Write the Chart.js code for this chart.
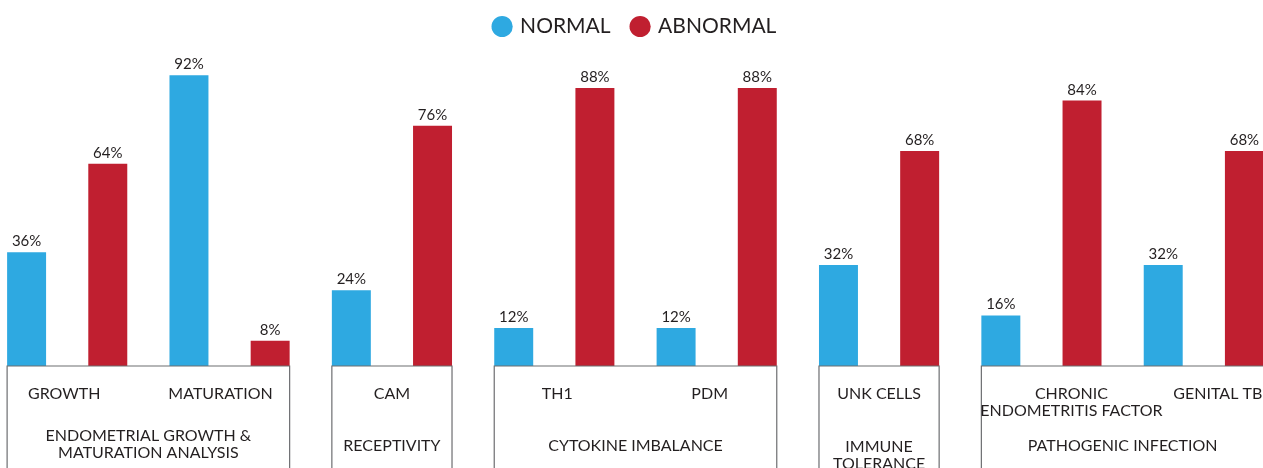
<!DOCTYPE html>
<html>
<head>
<meta charset="utf-8">
<script src="https://cdn.jsdelivr.net/npm/chart.js@4"></script>
<style>
  html, body { margin: 0; padding: 0; background: #fff; overflow: hidden; }
  #wrap { position: absolute; left: -14px; top: 0; width: 1299px; height: 468px; }
</style>
</head>
<body>
<div id="wrap"><canvas id="myChart" width="1299" height="468"></canvas></div>
<script>
const ctx = document.getElementById('myChart');

// data
const categories = [
  ['GROWTH'], ['MATURATION'], ['CAM'], ['TH1'], ['PDM'], ['UNK CELLS'],
  ['CHRONIC', 'ENDOMETRITIS FACTOR'], ['GENITAL TB']
];
const normal   = [36, 92, 24, 12, 12, 32, 16, 32];
const abnormal = [64, 8, 76, 88, 88, 68, 84, 68];
const groupNames = [
  ['ENDOMETRIAL GROWTH &', 'MATURATION ANALYSIS'],
  ['RECEPTIVITY'],
  ['CYTOKINE IMBALANCE'],
  ['IMMUNE', 'TOLERANCE'],
  ['PATHOGENIC INFECTION']
];
const groupRanges = [[0, 1], [2, 2], [3, 4], [5, 5], [6, 7]];

// label nudges (px) and first-line y for the group captions
const catDx = [-3, -9, 0, 3, -7, 0, 30, 14];
const groupY = [436, 446, 446, 447, 446];

const blue = 'rgb(46,169,225)';
const red = 'rgb(192,31,48)';
const textColor = '#231f20';
const fontFam = 'Lato, "Open Sans", sans-serif';

// legend gets wide item spacing; tweak its height so the plot top lands right
const legendSpace = {
  id: 'legendSpace',
  beforeInit(chart) {
    const fit = chart.legend.fit;
    chart.legend.fit = function () {
      fit.bind(chart.legend)();
      this.height += 3;
    };
  }
};

const decorations = {
  id: 'decorations',
  afterDatasetsDraw(chart) {
    const c = chart.ctx;
    const x = chart.scales.x;
    const base = chart.scales.y.getPixelForValue(0);

    // value labels
    c.save();
    c.fillStyle = textColor;
    c.font = '15px ' + fontFam;
    c.textAlign = 'center';
    c.textBaseline = 'alphabetic';
    chart.data.datasets.forEach((ds, di) => {
      chart.getDatasetMeta(di).data.forEach((bar, i) => {
        c.fillText(ds.data[i] + '%', bar.x, bar.y - 6);
      });
    });

    // boxes
    const bars0 = chart.getDatasetMeta(0).data;
    const bars1 = chart.getDatasetMeta(1).data;
    c.strokeStyle = '#6d6e71';
    c.lineWidth = 1.2;
    const boxes = groupRanges.map(r => {
      const left = bars0[r[0]].x - bars0[r[0]].width / 2;
      const right = bars1[r[1]].x + bars1[r[1]].width / 2;
      return [left, right];
    });
    boxes.forEach(([l, r]) => {
      c.beginPath();
      c.moveTo(l, chart.height + 2);
      c.lineTo(l, base);
      c.lineTo(r, base);
      c.lineTo(r, chart.height + 2);
      c.stroke();
    });

    // category labels
    c.font = '16px ' + fontFam;
    c.textBaseline = 'middle';
    categories.forEach((lines, i) => {
      const cx = x.getPixelForValue(i) + catDx[i];
      lines.forEach((t, k) => c.fillText(t, cx, 394 + k * 17));
    });

    // group labels
    groupNames.forEach((lines, g) => {
      const cx = (boxes[g][0] + boxes[g][1]) / 2;
      lines.forEach((t, k) => c.fillText(t, cx, groupY[g] + k * 17));
    });
    c.restore();
  }
};

const config = {
  type: 'bar',
  data: {
    labels: categories.map(l => l.join(' ')),
    datasets: [
      { label: 'NORMAL', data: normal, backgroundColor: blue },
      { label: 'ABNORMAL', data: abnormal, backgroundColor: red }
    ]
  },
  options: {
    responsive: false,
    animation: false,
    layout: { padding: { top: -6, bottom: 102, left: 0, right: 0 } },
    datasets: {
      bar: { categoryPercentage: 1, barPercentage: 0.48, borderWidth: 0 }
    },
    plugins: {
      legend: {
        display: true,
        position: 'top',
        labels: {
          usePointStyle: true,
          pointStyle: 'circle',
          boxWidth: 15,
          boxHeight: 15,
          padding: 22,
          color: textColor,
          font: { family: fontFam, size: 21 }
        }
      },
      tooltip: { enabled: false }
    },
    scales: {
      x: { display: false, grid: { display: false } },
      y: { display: false, min: 0, max: 100, grid: { display: false } }
    }
  },
  plugins: [legendSpace, decorations]
};

new Chart(ctx, config);
</script>
</body>
</html>
